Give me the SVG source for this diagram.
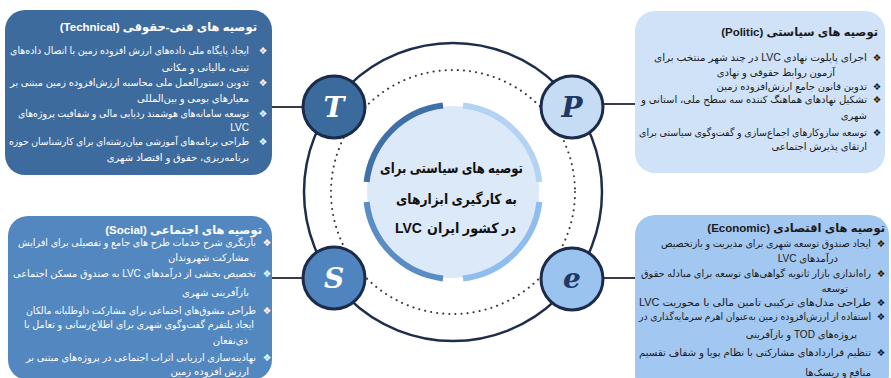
<svg xmlns="http://www.w3.org/2000/svg" width="891" height="378" viewBox="0 0 891 378">
<style>
.bg{fill:#ffffff}
.box-t{fill:#3e6b9e}
.box-s{fill:#5387c0}
.box-p{fill:#cfe2f8}
.box-e{fill:#a2c7f0}
.tx{font-family:"Liberation Sans","DejaVu Sans",sans-serif;font-size:10px;direction:rtl;text-anchor:start}
.ti{font-family:"Liberation Sans","DejaVu Sans",sans-serif;font-size:11.5px;font-weight:bold;direction:rtl;text-anchor:start}
.bl{font-family:"DejaVu Sans",sans-serif;font-size:9.5px;text-anchor:middle}
.w{fill:#ffffff}
.d{fill:#1b1b1b}
.conn{stroke:#3a3a4a;stroke-width:2;fill:none}
.outer{fill:none;stroke:#1f2d4d;stroke-width:2.5}
.dots{fill:none;stroke:#333333;stroke-width:2;stroke-dasharray:0.1 6;stroke-linecap:round}
.node{stroke:#1c2b4a;stroke-width:3}
.lt{font-family:"DejaVu Serif",serif;font-size:28px;font-weight:bold;font-style:italic;text-anchor:middle}
.ct{font-family:"Liberation Sans","DejaVu Sans",sans-serif;font-size:14px;font-weight:bold;fill:#111111}
.arc{fill:none;stroke-width:6}
</style>
<rect class="bg" x="0" y="0" width="891" height="378"/>

<g id="center">
  <circle class="outer" cx="453" cy="192" r="149"/>
  <circle class="dots" cx="453" cy="192" r="122"/>
  <circle cx="453" cy="192" r="86" fill="#dce9f8"/>
  <path class="arc" stroke="#3f70a8" d="M366.6,182 A87,87 0 0 1 443,105.6"/>
  <path class="arc" stroke="#b4d2f2" d="M463,105.6 A87,87 0 0 1 539.4,182"/>
  <path class="arc" stroke="#8fbdee" d="M539.4,202 A87,87 0 0 1 463,278.4"/>
  <path class="arc" stroke="#5b8dc5" d="M443,278.4 A87,87 0 0 1 366.6,202"/>
  <text class="ct" x="523" y="173" direction="rtl" text-anchor="start" textLength="143" lengthAdjust="spacingAndGlyphs">توصیه های سیاستی برای</text>
  <text class="ct" x="517" y="204" direction="rtl" text-anchor="start" textLength="121" lengthAdjust="spacingAndGlyphs">به کارگیری ابزارهای</text>
  <text class="ct" x="395" y="233" text-anchor="start">LVC</text>
  <text class="ct" x="516" y="233" direction="rtl" text-anchor="start" textLength="89" lengthAdjust="spacingAndGlyphs">در کشور ایران</text>
</g>

<g id="connectors">
  <line class="conn" x1="272" y1="107" x2="303" y2="107"/>
  <line class="conn" x1="603" y1="104" x2="635" y2="104"/>
  <line class="conn" x1="272" y1="278" x2="303" y2="278"/>
  <line class="conn" x1="603" y1="278" x2="635" y2="278"/>
</g>

<g id="node-t">
  <circle class="node" cx="334" cy="107" r="31" fill="#3b6a9c"/>
  <text class="lt w" x="334" y="117">T</text>
</g>
<g id="node-p">
  <circle class="node" cx="572" cy="107" r="31" fill="#c6dcf5"/>
  <text class="lt" x="572" y="117" fill="#1f3864">P</text>
</g>
<g id="node-s">
  <circle class="node" cx="334" cy="278" r="31" fill="#4f84bf"/>
  <text class="lt w" x="334" y="288">S</text>
</g>
<g id="node-e">
  <circle class="node" cx="572" cy="279" r="31" fill="#9bc3ef"/>
  <text class="lt" x="572" y="288" fill="#1f3864">e</text>
</g>

<g id="box-technical">
  <rect class="box-t" x="5" y="10" width="267" height="165" rx="20"/>
  <text class="ti w" x="257" y="31">توصیه های فنی-حقوقی (Technical)</text>
  <text class="bl w" x="263" y="54">❖</text>
  <text class="bl w" x="263" y="86">❖</text>
  <text class="bl w" x="263" y="117">❖</text>
  <text class="bl w" x="263" y="145">❖</text>
  <text class="tx w" x="249" y="54" textLength="239" lengthAdjust="spacingAndGlyphs">ایجاد پایگاه ملی داده‌های ارزش افزوده زمین با اتصال داده‌های</text>
  <text class="tx w" x="249" y="71">ثبتی، مالیاتی و مکانی</text>
  <text class="tx w" x="249" y="86" textLength="239" lengthAdjust="spacingAndGlyphs">تدوین دستورالعمل ملی محاسبه ارزش‌افزوده زمین مبتنی بر</text>
  <text class="tx w" x="249" y="102">معیارهای بومی و بین‌المللی</text>
  <text class="tx w" x="249" y="117" textLength="231" lengthAdjust="spacingAndGlyphs">توسعه سامانه‌های هوشمند ردیابی مالی و شفافیت پروژه‌های</text>
  <text class="tx w" x="249" y="131">LVC</text>
  <text class="tx w" x="249" y="145" textLength="240" lengthAdjust="spacingAndGlyphs">طراحی برنامه‌های آموزشی میان‌رشته‌ای برای کارشناسان حوزه</text>
  <text class="tx w" x="249" y="161">برنامه‌ریزی، حقوق و اقتصاد شهری</text>
</g>

<g id="box-politic">
  <rect class="box-p" x="635" y="11" width="250" height="162" rx="20"/>
  <text class="ti d" x="878" y="36">توصیه های سیاستی (Politic)</text>
  <text class="bl d" x="877" y="61">❖</text>
  <text class="bl d" x="877" y="90">❖</text>
  <text class="bl d" x="877" y="103">❖</text>
  <text class="bl d" x="877" y="136">❖</text>
  <text class="tx d" x="867" y="61" textLength="213" lengthAdjust="spacingAndGlyphs">اجرای پایلوت نهادی LVC در چند شهر منتخب برای</text>
  <text class="tx d" x="835" y="76">آزمون روابط حقوقی و نهادی</text>
  <text class="tx d" x="867" y="90">تدوین قانون جامع ارزش‌افزوده زمین</text>
  <text class="tx d" x="867" y="103" textLength="226" lengthAdjust="spacingAndGlyphs">تشکیل نهادهای هماهنگ کننده سه سطح ملی، استانی و</text>
  <text class="tx d" x="867" y="119">شهری</text>
  <text class="tx d" x="867" y="136" textLength="228" lengthAdjust="spacingAndGlyphs">توسعه سازوکارهای اجماع‌سازی و گفت‌وگوی سیاستی برای</text>
  <text class="tx d" x="867" y="150">ارتقای پذیرش اجتماعی</text>
</g>

<g id="box-social">
  <rect class="box-s" x="8" y="216" width="264" height="164" rx="20"/>
  <text class="ti w" x="262" y="234">توصیه های اجتماعی (Social)</text>
  <text class="bl w" x="267" y="246">❖</text>
  <text class="bl w" x="267" y="277">❖</text>
  <text class="bl w" x="267" y="314">❖</text>
  <text class="bl w" x="267" y="361">❖</text>
  <text class="tx w" x="256" y="246" textLength="238" lengthAdjust="spacingAndGlyphs">بازنگری شرح خدمات طرح های جامع و تفصیلی برای افزایش</text>
  <text class="tx w" x="249" y="261">مشارکت شهروندان</text>
  <text class="tx w" x="256" y="277" textLength="243" lengthAdjust="spacingAndGlyphs">تخصیص بخشی از درآمدهای LVC به صندوق مسکن اجتماعی</text>
  <text class="tx w" x="249" y="296">بازآفرینی شهری</text>
  <text class="tx w" x="256" y="314" textLength="230" lengthAdjust="spacingAndGlyphs">طراحی مشوق‌های اجتماعی برای مشارکت داوطلبانه مالکان</text>
  <text class="tx w" x="254" y="328" textLength="230" lengthAdjust="spacingAndGlyphs">ایجاد پلتفرم گفت‌وگوی شهری برای اطلاع‌رسانی و تعامل با</text>
  <text class="tx w" x="248" y="344">ذی‌نفعان</text>
  <text class="tx w" x="256" y="361" textLength="230" lengthAdjust="spacingAndGlyphs">نهادینه‌سازی ارزیابی اثرات اجتماعی در پروژه‌های مبتنی بر</text>
  <text class="tx w" x="249" y="375">ارزش افزوده زمین</text>
</g>

<g id="box-economic">
  <rect class="box-e" x="635" y="215" width="254" height="180" rx="20"/>
  <text class="ti d" x="885" y="232">توصیه های اقتصادی (Economic)</text>
  <text class="bl d" x="881" y="247">❖</text>
  <text class="bl d" x="881" y="277">❖</text>
  <text class="bl d" x="881" y="306">❖</text>
  <text class="bl d" x="881" y="320">❖</text>
  <text class="bl d" x="881" y="356">❖</text>
  <text class="tx d" x="871" y="247" textLength="210" lengthAdjust="spacingAndGlyphs">ایجاد صندوق توسعه شهری برای مدیریت و بازتخصیص</text>
  <text class="tx d" x="838" y="262">درآمدهای LVC</text>
  <text class="tx d" x="871" y="277" textLength="230" lengthAdjust="spacingAndGlyphs">راه‌اندازی بازار ثانویه گواهی‌های توسعه برای مبادله حقوق</text>
  <text class="tx d" x="848" y="292">توسعه</text>
  <text class="tx d" x="871" y="306" textLength="232" lengthAdjust="spacingAndGlyphs">طراحی مدل‌های ترکیبی تامین مالی با محوریت LVC</text>
  <text class="tx d" x="871" y="320" textLength="232" lengthAdjust="spacingAndGlyphs">استفاده از ارزش‌افزوده زمین به‌عنوان اهرم سرمایه‌گذاری در</text>
  <text class="tx d" x="857" y="338">پروژه‌های TOD و بازآفرینی</text>
  <text class="tx d" x="871" y="356" textLength="232" lengthAdjust="spacingAndGlyphs">تنظیم قراردادهای مشارکتی با نظام پویا و شفاف تقسیم</text>
  <text class="tx d" x="871" y="376">منافع و ریسک‌ها</text>
</g>
</svg>
